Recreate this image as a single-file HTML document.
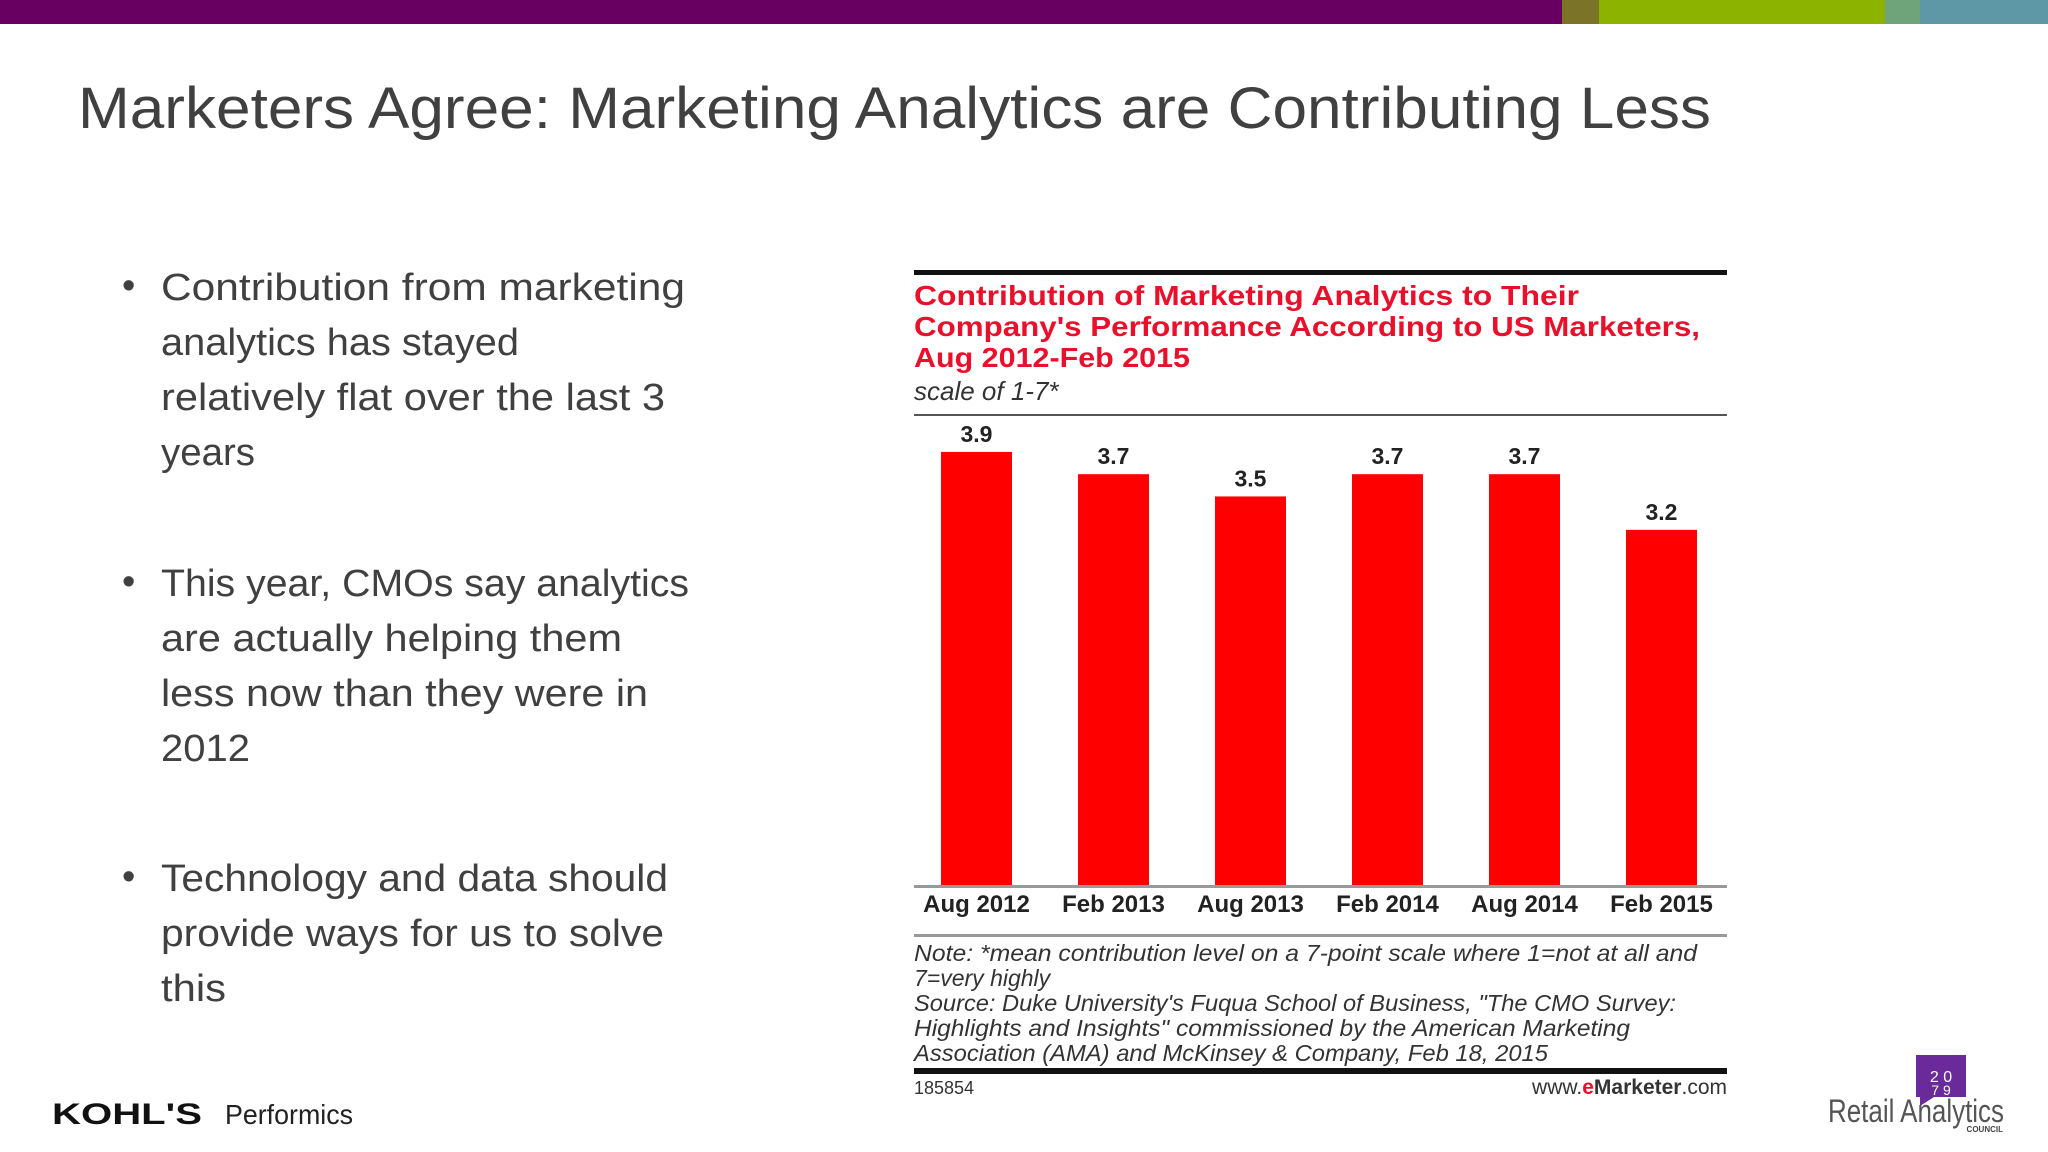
<!DOCTYPE html>
<html><head><meta charset="utf-8"><style>
html,body{margin:0;padding:0;background:#fff;}
svg{display:block;}
text{font-family:"Liberation Sans",sans-serif;}
</style></head><body>
<svg id="page" width="2048" height="1152" viewBox="0 0 2048 1152">
  <rect x="0" y="0" width="1562" height="24" fill="#680061"/>
  <rect x="1562" y="0" width="37" height="24" fill="#7b7428"/>
  <rect x="1599" y="0" width="286" height="24" fill="#8bb300"/>
  <rect x="1885" y="0" width="35" height="24" fill="#6fa47a"/>
  <rect x="1920" y="0" width="128" height="24" fill="#5e98a6"/>

  <text x="78" y="128" font-size="58" fill="#404040" textLength="1633" lengthAdjust="spacingAndGlyphs">Marketers Agree:  Marketing Analytics are Contributing Less</text>

  <g font-size="38" fill="#404040">
    <g>
      <text x="122" y="298">•</text>
      <text x="161" y="300" textLength="524" lengthAdjust="spacingAndGlyphs">Contribution from marketing</text>
      <text x="161" y="355" textLength="358" lengthAdjust="spacingAndGlyphs">analytics has stayed</text>
      <text x="161" y="410" textLength="504" lengthAdjust="spacingAndGlyphs">relatively flat over the last 3</text>
      <text x="161" y="465" textLength="94" lengthAdjust="spacingAndGlyphs">years</text>
    </g>
    <g>
      <text x="122" y="594">•</text>
      <text x="161" y="596" textLength="528" lengthAdjust="spacingAndGlyphs">This year, CMOs say analytics</text>
      <text x="161" y="651" textLength="461" lengthAdjust="spacingAndGlyphs">are actually helping them</text>
      <text x="161" y="706" textLength="487" lengthAdjust="spacingAndGlyphs">less now than they were in</text>
      <text x="161" y="761" textLength="89" lengthAdjust="spacingAndGlyphs">2012</text>
    </g>
    <g>
      <text x="122" y="889">•</text>
      <text x="161" y="891" textLength="507" lengthAdjust="spacingAndGlyphs">Technology and data should</text>
      <text x="161" y="946" textLength="503" lengthAdjust="spacingAndGlyphs">provide ways for us to solve</text>
      <text x="161" y="1001" textLength="65" lengthAdjust="spacingAndGlyphs">this</text>
    </g>
  </g>

  <g>
    <rect x="914" y="270" width="813" height="5" fill="#111"/>
    <g font-size="28" font-weight="bold" fill="#e8102a">
      <text x="914" y="305" textLength="665" lengthAdjust="spacingAndGlyphs">Contribution of Marketing Analytics to Their</text>
      <text x="914" y="336" textLength="786" lengthAdjust="spacingAndGlyphs">Company's Performance According to US Marketers,</text>
      <text x="914" y="367" textLength="276" lengthAdjust="spacingAndGlyphs">Aug 2012-Feb 2015</text>
    </g>
    <text x="914" y="400" font-size="26" font-style="italic" fill="#333">scale of 1-7*</text>
    <rect x="914" y="414" width="813" height="2" fill="#555"/>
    <g id="bars"></g>
    <rect x="914" y="885" width="813" height="3" fill="#999"/>
    <rect x="914" y="934" width="813" height="3" fill="#999"/>
    <g font-size="23" font-style="italic" fill="#333">
      <text x="914" y="961" textLength="783" lengthAdjust="spacingAndGlyphs">Note: *mean contribution level on a 7-point scale where 1=not at all and</text>
      <text x="914" y="986">7=very highly</text>
      <text x="914" y="1011" textLength="762" lengthAdjust="spacingAndGlyphs">Source: Duke University's Fuqua School of Business, "The CMO Survey:</text>
      <text x="914" y="1036" textLength="716" lengthAdjust="spacingAndGlyphs">Highlights and Insights" commissioned by the American Marketing</text>
      <text x="914" y="1061" textLength="634" lengthAdjust="spacingAndGlyphs">Association (AMA) and McKinsey &amp; Company, Feb 18, 2015</text>
    </g>
    <rect x="914" y="1068" width="813" height="6" fill="#111"/>
    <text x="914" y="1094" font-size="18" fill="#333">185854</text>
    <text x="1727" y="1094" font-size="21" fill="#333" text-anchor="end">www.<tspan fill="#e8102a" font-weight="bold">e</tspan><tspan font-weight="bold">Marketer</tspan>.com</text>
  </g>

  <g>
    <text x="52" y="1124" font-size="30" font-weight="bold" fill="#111" textLength="150" lengthAdjust="spacingAndGlyphs">KOHL'S</text>
    <text x="225" y="1124" font-size="28" fill="#222" textLength="128" lengthAdjust="spacingAndGlyphs">Performics</text>
  </g>
  <g>
    <rect x="1916" y="1055" width="50" height="42" fill="#6a2a9a"/>
    <polygon points="1920,1097 1934,1097 1920,1106" fill="#6a2a9a"/>
    <text x="1941" y="1082" font-size="16" fill="#fff" text-anchor="middle">2 0</text>
    <text x="1941" y="1095" font-size="14" fill="#fff" text-anchor="middle">7 9</text>
    <text x="1828" y="1122" font-size="32" fill="#555" textLength="176" lengthAdjust="spacingAndGlyphs">Retail Analytics</text>
    <text x="2003" y="1132" font-size="8" font-weight="bold" fill="#444" text-anchor="end">COUNCIL</text>
  </g>
</svg>
<script>
const categories = ["Aug 2012","Feb 2013","Aug 2013","Feb 2014","Aug 2014","Feb 2015"];
const values = [3.9, 3.7, 3.5, 3.7, 3.7, 3.2];
const valueLabels = ["3.9","3.7","3.5","3.7","3.7","3.2"];

const NS = "http://www.w3.org/2000/svg";
const plotLeft = 908, plotWidth = 822, baseY = 886, pxPerUnit = 111.3, barW = 71;
function xCenter(i){ return plotLeft + plotWidth/categories.length*(i+0.5); }
function yScale(v){ return baseY - v*pxPerUnit; }
const g = document.getElementById('bars');
categories.forEach((c,i)=>{
  const cx = xCenter(i), top = yScale(values[i]);
  const r = document.createElementNS(NS,'rect');
  r.setAttribute('x', cx - barW/2); r.setAttribute('y', top);
  r.setAttribute('width', barW); r.setAttribute('height', baseY - top);
  r.setAttribute('fill', '#ff0000');
  
  
  g.appendChild(r);
  const t = document.createElementNS(NS,'text');
  t.setAttribute('x', cx); t.setAttribute('y', top - 10);
  t.setAttribute('text-anchor','middle'); t.setAttribute('font-size','23');
  t.setAttribute('font-weight','bold'); t.setAttribute('fill','#222');
  t.textContent = valueLabels[i];
  
  
  g.appendChild(t);
  const l = document.createElementNS(NS,'text');
  l.setAttribute('x', cx); l.setAttribute('y', 912);
  l.setAttribute('text-anchor','middle'); l.setAttribute('font-size','24');
  l.setAttribute('font-weight','bold'); l.setAttribute('fill','#222');
  l.textContent = c;
  
  
  g.appendChild(l);
});
</script>
</body></html>
